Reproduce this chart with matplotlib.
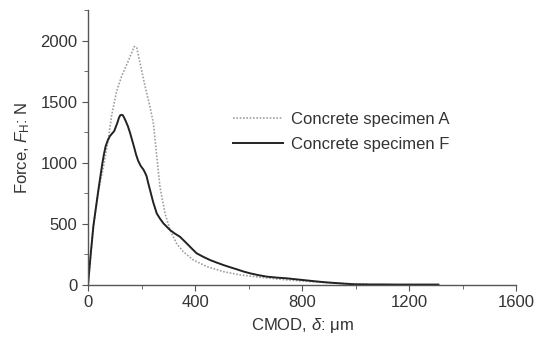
import matplotlib
matplotlib.use("Agg")
import matplotlib.pyplot as plt
from matplotlib.ticker import MultipleLocator

plt.rcParams["font.family"] = ["Liberation Sans", "DejaVu Sans"]
plt.rcParams["mathtext.fontset"] = "custom"
plt.rcParams["mathtext.rm"] = "Liberation Sans"
plt.rcParams["mathtext.it"] = "Liberation Sans:italic"

# CMOD (um) vs force (N)
cmod_a = [0, 20, 40, 57, 76, 88, 107, 126, 151, 173, 182, 194, 213, 231, 244,
          257, 269, 288, 307, 331, 356, 394, 444, 506, 568, 643, 743, 850, 950, 1050]
force_a = [0, 480, 780, 960, 1192, 1384, 1586, 1712, 1836, 1953, 1945, 1822, 1630,
           1466, 1329, 1055, 803, 585, 449, 340, 272, 204, 150, 109, 82, 63, 41, 25, 12, 5]

cmod_f = [0, 10, 20, 30, 39, 47, 54, 60, 66, 74, 82, 90, 98, 104, 110, 115, 120,
          125, 130, 135, 141, 149, 157, 165, 173, 180, 188, 197, 207, 213, 219, 225,
          232, 244, 257, 270, 282, 295, 307, 325, 344, 356, 369, 388, 406, 431, 456,
          481, 506, 531, 556, 581, 606, 637, 668, 705, 743, 795, 847, 885, 922, 960,
          997, 1050, 1100, 1150, 1200, 1250, 1310]
force_f = [0, 250, 480, 640, 781, 900, 1000, 1075, 1137, 1185, 1219, 1240, 1260, 1295,
           1329, 1365, 1388, 1393, 1390, 1370, 1342, 1300, 1247, 1185, 1123, 1065, 1014,
           975, 945, 920, 890, 835, 776, 675, 585, 540, 504, 475, 449, 420, 394, 368,
           340, 298, 259, 230, 204, 183, 163, 145, 128, 110, 95, 80, 68, 60, 54, 42, 30,
           22, 16, 10, 5, 4, 4, 3, 3, 3, 3]

label_a = "Concrete specimen A"
label_f = "Concrete specimen F"

fig = plt.figure(figsize=(5.35, 3.4), dpi=100)
ax = fig.add_axes([0.1645, 0.162, 0.8, 0.808])

ax.plot(cmod_a, force_a, color="#a0a0a0", linestyle=(0, (1, 1)), linewidth=1.2, label=label_a)
ax.plot(cmod_f, force_f, color="#222222", linestyle="-", linewidth=1.4, label=label_f)

ax.set_xlim(0, 1600)
ax.set_ylim(0, 2250)
ax.xaxis.set_major_locator(MultipleLocator(400))
ax.xaxis.set_minor_locator(MultipleLocator(200))
ax.yaxis.set_major_locator(MultipleLocator(500))
ax.yaxis.set_minor_locator(MultipleLocator(250))
ax.set_yticks([0, 500, 1000, 1500, 2000])

for s in ["top", "right"]:
    ax.spines[s].set_visible(False)
for s in ["left", "bottom"]:
    ax.spines[s].set_color("#555555")
    ax.spines[s].set_linewidth(1.0)

ax.tick_params(which="both", direction="out", colors="#555555", labelcolor="#333333",
               labelsize=12)
ax.tick_params(which="major", length=4)
ax.tick_params(which="minor", length=3)

ax.set_xlabel(r"CMOD, $\delta$: μm", fontsize=12, color="#333333", labelpad=4)
ax.set_ylabel(r"Force, $F_\mathrm{H}$: N", fontsize=12, color="#333333", labelpad=6)

leg = ax.legend(loc="upper left", bbox_to_anchor=(0.304, 0.685), frameon=False,
                fontsize=12, handlelength=3.0, handletextpad=0.5, labelspacing=0.63)
for t in leg.get_texts():
    t.set_color("#333333")

fig.savefig("out.png", dpi=100)
